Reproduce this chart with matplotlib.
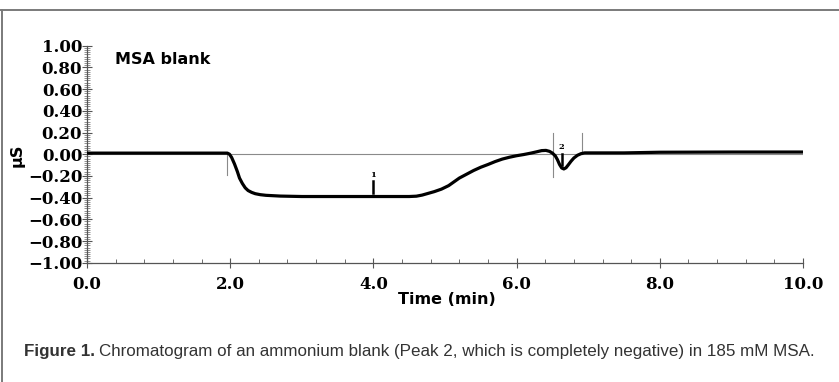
import numpy as np
import matplotlib
matplotlib.use("Agg")
import matplotlib.pyplot as plt
from matplotlib.ticker import MultipleLocator
from matplotlib.lines import Line2D

# trace (time in min, conductivity in uS)
time_min = [0.0, 1.0, 1.5, 1.96, 1.99, 2.02, 2.06, 2.1, 2.13, 2.17,
            2.21, 2.25, 2.3, 2.35, 2.42, 2.5, 2.7, 3.0, 3.5, 4.0,
            4.5, 4.6, 4.68, 4.76, 4.85, 4.95, 5.05, 5.2, 5.3, 5.4,
            5.5, 5.6, 5.7, 5.8, 5.9, 6.0, 6.1, 6.2, 6.28, 6.35,
            6.41, 6.46, 6.5, 6.54, 6.57, 6.6, 6.63, 6.66, 6.69, 6.72,
            6.76, 6.8, 6.85, 6.9, 6.95, 7.5, 8.0, 9.0, 10.0]
signal_us = [0.01, 0.01, 0.01, 0.01, 0.0, -0.03, -0.09, -0.16, -0.22, -0.27,
             -0.31, -0.335, -0.352, -0.364, -0.373, -0.379, -0.386, -0.39, -0.39, -0.39,
             -0.39, -0.387, -0.377, -0.362, -0.345, -0.322, -0.29, -0.22, -0.185, -0.15,
             -0.12, -0.095, -0.068, -0.045, -0.028, -0.014, -0.003, 0.01, 0.022, 0.033,
             0.035, 0.026, 0.01, -0.015, -0.05, -0.095, -0.127, -0.136, -0.125, -0.1,
             -0.065, -0.035, -0.01, 0.005, 0.012, 0.012, 0.018, 0.02, 0.02]

# integration marks: (time, y from, y to)
int_marks = [(1.95, 0.0, -0.19), (6.51, 0.195, -0.21), (6.92, 0.2, 0.0)]
# peak labels: (time, label y, tick top, tick bottom, label)
peaks = [(4.0, -0.19, -0.245, -0.36, "1"), (6.63, 0.07, 0.0, -0.10, "2")]

x_ticks = [0.0, 2.0, 4.0, 6.0, 8.0, 10.0]
y_ticks = [1.0, 0.8, 0.6, 0.4, 0.2, 0.0, -0.2, -0.4, -0.6, -0.8, -1.0]

caption_bold = "Figure 1."
caption_rest = "Chromatogram of an ammonium blank (Peak 2, which is completely negative) in 185 mM MSA."

W, H = 839, 382
fig = plt.figure(figsize=(W / 100, H / 100), dpi=100)
ax = fig.add_axes([87 / W, 1 - 262.7 / H, (803 - 87) / W, (262.7 - 45.7) / H])

ax.axhline(0, color="#8a8a8a", lw=0.8, zorder=1)
for t, y0, y1 in int_marks:
    ax.plot([t, t], [y0, y1], color="#8a8a8a", lw=0.8, zorder=1)
ax.plot(time_min, signal_us, color="black", lw=2.3, solid_capstyle="round",
        solid_joinstyle="round", zorder=3)
for t, ly, y0, y1, lab in peaks:
    ax.plot([t, t], [y0, y1], color="black", lw=1.8, zorder=4)
    ax.text(t, ly, lab, ha="center", va="center", fontsize=6,
            fontweight="bold", family="DejaVu Serif")

ax.set_xlim(0, 10)
ax.set_ylim(-1, 1)
ax.set_xticks(x_ticks)
ax.set_yticks(y_ticks)
tick_font = dict(family="DejaVu Serif", fontweight="bold", fontsize=12)
ax.set_xticklabels([f"{v:.1f}" for v in x_ticks], **tick_font)
ax.set_yticklabels([f"{v:.2f}".replace("-", "\u2212") for v in y_ticks], **tick_font)
ax.xaxis.set_minor_locator(MultipleLocator(0.4))
ax.yaxis.set_minor_locator(MultipleLocator(0.02))
ax.tick_params(axis="y", which="major", direction="inout", length=7, width=0.8,
               pad=0, colors="#555555", labelcolor="black")
ax.tick_params(axis="y", which="minor", direction="inout", length=4.5, width=0.5,
               colors="#666666")
ax.tick_params(axis="x", which="major", direction="inout", length=7, width=0.8,
               pad=6, colors="#555555", labelcolor="black")
ax.tick_params(axis="x", which="minor", direction="in", length=3, width=0.6,
               colors="#555555")
for s in ["top", "right"]:
    ax.spines[s].set_visible(False)
for s in ["left", "bottom"]:
    ax.spines[s].set_color("#555555")
    ax.spines[s].set_linewidth(0.9)

ax.text(0.39, 0.94, "MSA blank", fontsize=11.5, fontweight="bold",
        va="top", ha="left", family="DejaVu Sans")
fig.text(447 / W, 1 - 299 / H, "Time (min)", fontsize=11.5, fontweight="bold",
         ha="center", va="center", family="DejaVu Sans")
fig.text(17.5 / W, 1 - 155 / H, "\u00b5S", fontsize=11.5, fontweight="bold",
         rotation=90, ha="center", va="center", family="DejaVu Sans")

# frame around the figure
fig.add_artist(Line2D([0, 1], [1 - 10 / H] * 2, transform=fig.transFigure,
                      color="#7a7a7a", lw=1.4))
fig.add_artist(Line2D([1.5 / W] * 2, [0, 1 - 10 / H], transform=fig.transFigure,
                      color="#7a7a7a", lw=1.4))

# caption, sized to span the same width as in the source
cap_font = "Liberation Sans"
renderer = fig.canvas.get_renderer()
x0, x_end, base_y = 24, 818, 1 - 356 / H
t1 = fig.text(x0 / W, base_y, caption_bold, fontsize=12, fontweight="bold",
              family=cap_font, color="#333333", va="baseline")
t2 = fig.text(0, base_y, caption_rest, fontsize=12, family=cap_font,
              color="#333333", va="baseline")
w1 = t1.get_window_extent(renderer).width
w2 = t2.get_window_extent(renderer).width
gap = 4
scale = (x_end - x0 - gap) / (w1 + w2)
t1.set_fontsize(12 * scale)
t2.set_fontsize(12 * scale)
w1 = t1.get_window_extent(renderer).width
t2.set_x((x0 + w1 + gap) / W)

fig.savefig("out.png", dpi=100)
